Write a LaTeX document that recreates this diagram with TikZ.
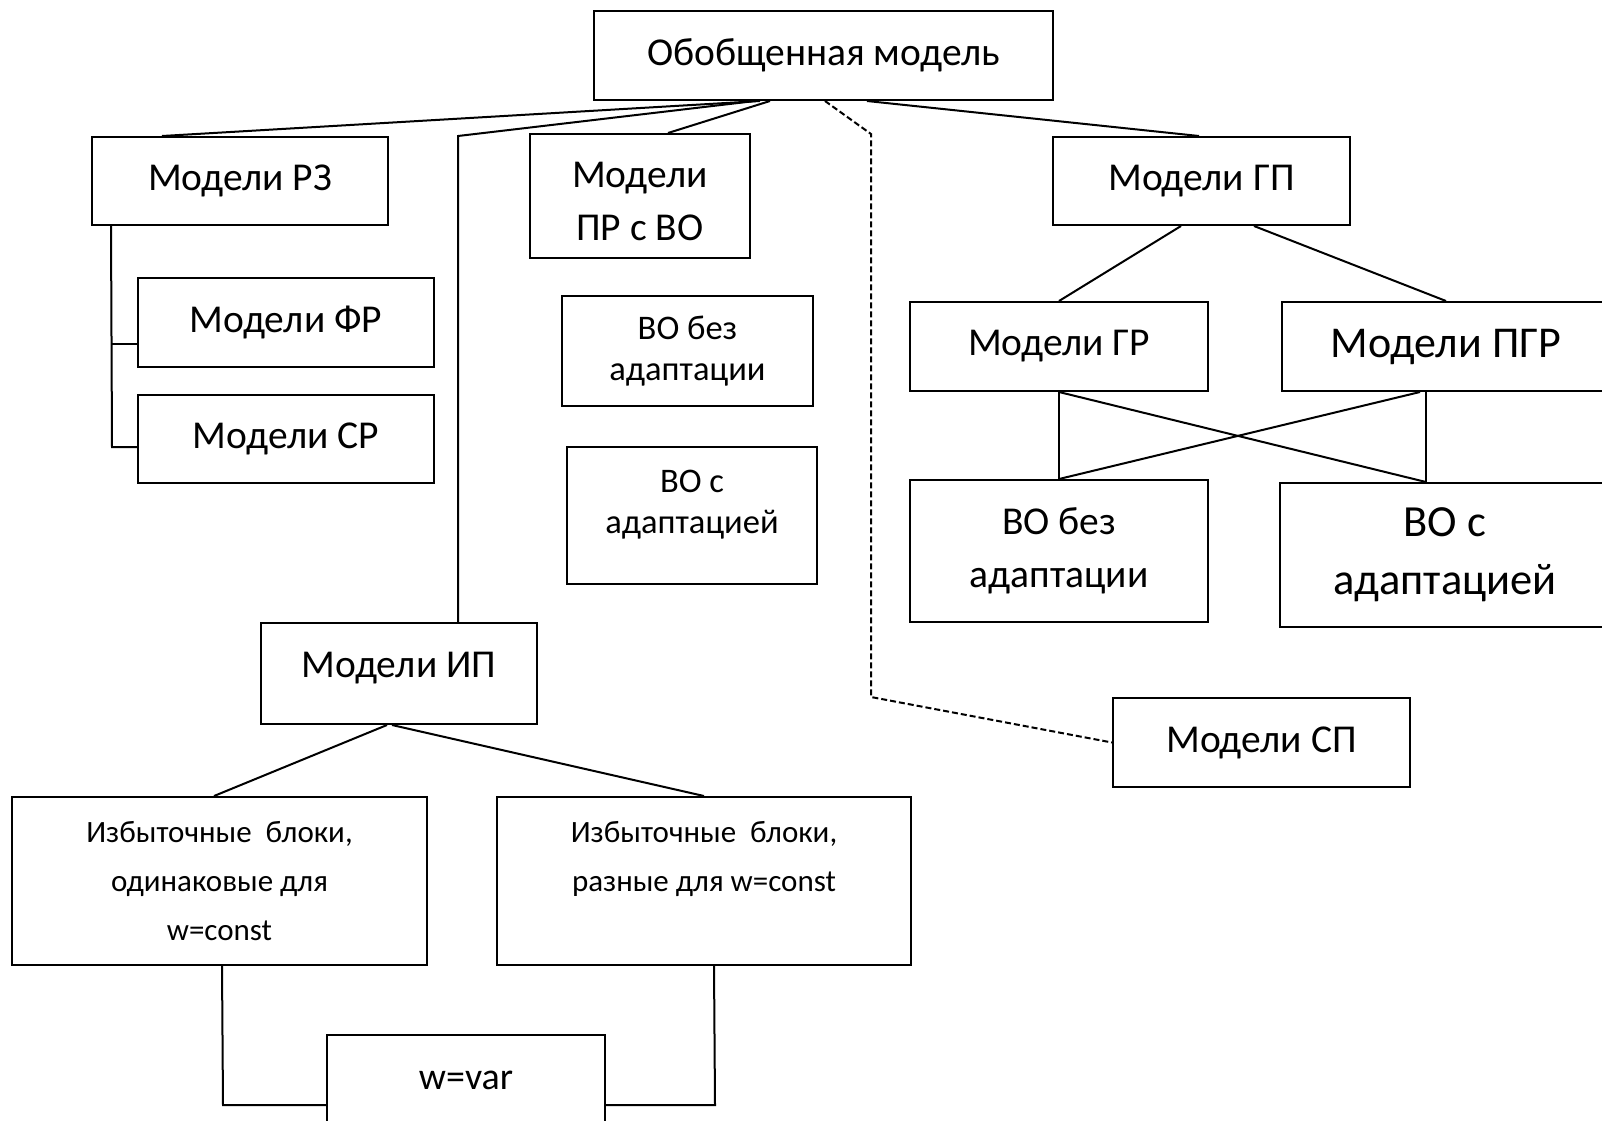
\documentclass[tikz,border=0pt]{standalone}
\usepackage{fontspec}
\setmainfont{Carlito}
\begin{document}
\begin{tikzpicture}[x=1pt, y=-1pt,
  box/.style={draw, line width=2pt, inner sep=0pt, align=center},
  txtA/.style={font={\fontsize{39.5}{53}\selectfont}},
  txtB/.style={font={\fontsize{44}{58}\selectfont}},
  txtC/.style={font={\fontsize{34.5}{41}\selectfont}},
  txtD/.style={font={\fontsize{31}{49}\selectfont}},
  link/.style={line width=2pt},
  dlink/.style={line width=2pt, dashed, dash pattern=on 6pt off 3pt}]
\useasboundingbox (0,0) rectangle (1602,1120);

% level 0
\node[box, font={\fontsize{39.5}{44}\selectfont}, minimum width=459, minimum height=89] (top) at (823.5,55.5) {Обобщенная модель};

% level 1
\node[box, txtA, minimum width=296, minimum height=88] (rz) at (240,181) {Модели РЗ};
\node[box, txtA, minimum width=220, minimum height=124] (prvo) at (640,196) {Модели\\ПР с ВО\\[-63pt]\mbox{}};
\node[box, txtA, minimum width=297, minimum height=88] (gp) at (1201.5,181) {Модели ГП};

% under РЗ
\node[box, txtA, minimum width=296, minimum height=89] (fr) at (286,322.5) {Модели ФР};
\node[box, txtA, minimum width=296, minimum height=88] (sr) at (286,439) {Модели СР};

% under ПР с ВО
\node[box, txtC, minimum width=251, minimum height=110] (vob1) at (687.5,351) {ВО без\\адаптации};
\node[box, txtC, minimum width=250, minimum height=137] (voa1) at (692,515.5) {ВО с\\адаптацией\\[-14pt]\mbox{}};

% under ГП
\node[box, txtA, minimum width=298, minimum height=89] (gr) at (1059,346.5) {Модели ГР};
\node[box, txtB, minimum width=328, minimum height=89] (pgr) at (1446,346.5) {Модели ПГР};
\node[box, font={\fontsize{39.5}{53}\selectfont}, minimum width=298, minimum height=142] (vob2) at (1059,551) {ВО без\\адаптации};
\node[box, font={\fontsize{44.5}{58}\selectfont}, minimum width=330, minimum height=144] (voa2) at (1445,555) {ВО с\\адаптацией};

% ИП branch
\node[box, txtA, minimum width=276, minimum height=101] (ip) at (399,673.5) {Модели ИП\\[-35pt]\mbox{}};
\node[box, txtD, minimum width=415, minimum height=168] (ib1) at (219.5,881) {Избыточные\ \ блоки,\\одинаковые для\\w=const};
\node[box, txtD, minimum width=414, minimum height=168] (ib2) at (704,881) {Избыточные\ \ блоки,\\разные для w=const\\\mbox{}};
\node[box, font={\fontsize{38}{44}\selectfont}, minimum width=278, minimum height=90] (wvar) at (466,1080) {w=var};

% СП
\node[box, txtA, minimum width=297, minimum height=89] (sp) at (1261.5,742.5) {Модели СП};

% bend points
\coordinate (ipbend) at (458,136);
\coordinate (spbend) at (871,134);
\coordinate (rzfr) at (112,344);
\coordinate (rzsr) at (112,447);
\coordinate (wb1) at (223,1105);
\coordinate (wb2) at (715,1105);

% connectors from the top box
\draw[link] ([xshift=167]top.south west) -- ([xshift=71]rz.north west);
\draw[link] ([xshift=162]top.south west) -- (ipbend) -- (ipbend |- ip.north);
\draw[link] ([xshift=177]top.south west) -- ([xshift=139]prvo.north west);
\draw[link] ([xshift=274]top.south west) -- ([xshift=147]gp.north west);
\draw[dlink] ([xshift=232]top.south west) -- (spbend) -- (spbend |- sp.north) -- (sp.west);

% РЗ tree
\draw[link] ([xshift=20]rz.south west) -- (rzsr) -- (rzsr -| sr.west);
\draw[link] (rzfr) -- (rzfr -| fr.west);

% ГП tree
\draw[link] ([xshift=129]gp.south west) -- (gr.north);
\draw[link] ([xshift=202]gp.south west) -- (pgr.north);
\draw[link] (gr.south) -- (vob2.north);
\draw[link] (gr.south) -- ([xshift=147]voa2.north west);
\draw[link] ([xshift=145]pgr.south west) -- ([xshift=147]voa2.north west);
\draw[link] ([xshift=139]pgr.south west) -- (vob2.north);

% ИП tree
\draw[link] ([xshift=127]ip.south west) -- ([xshift=203]ib1.north west);
\draw[link] ([xshift=132]ip.south west) -- (ib2.north);
\draw[link] ([xshift=211]ib1.south west) -- (wb1) -- (wb1 -| wvar.west);
\draw[link] ([xshift=218]ib2.south west) -- (wb2) -- (wb2 -| wvar.east);
\end{tikzpicture}
\end{document}
